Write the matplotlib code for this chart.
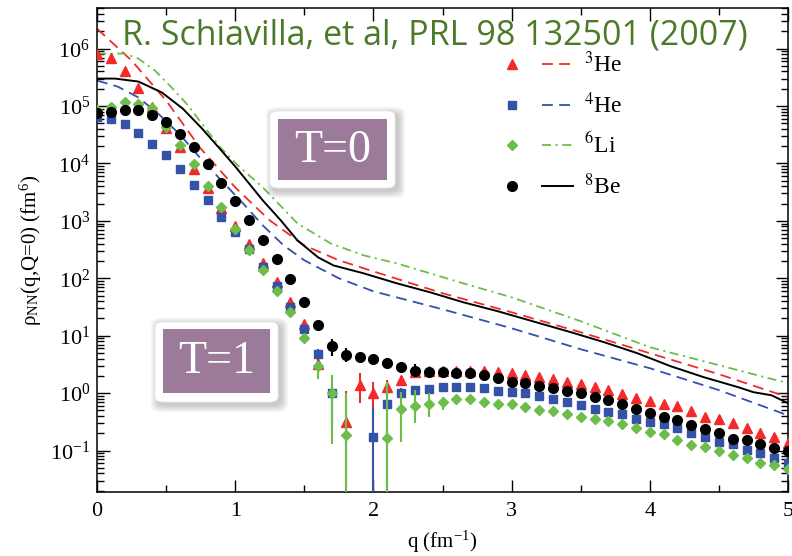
import numpy as np
import matplotlib
matplotlib.use('Agg')
import matplotlib.pyplot as plt
from matplotlib.patches import FancyBboxPatch, Rectangle
from matplotlib.legend_handler import HandlerTuple
from matplotlib.ticker import LogLocator, MultipleLocator, NullFormatter

plt.rcParams['font.family'] = ['Liberation Serif', 'DejaVu Serif']
plt.rcParams['mathtext.fontset'] = 'stix'

nan = np.nan
# ---------------- data ----------------
q_pts = np.round(np.arange(51) * 0.1, 1)

he3_pts = [8.2e5, 6.9e5, 4.1e5, 2.1e5, 9.5e4, 4.1e4, 1.92e4, 8.1e3, 3.8e3, 1.65e3,
           800, 390, 186, 88, 38.7, 16.0, 3.2, nan, 0.32, 1.38,
           0.99, 1.27, 1.68, 2.3, 2.4, 2.4, 2.4, 2.46, 2.44, 2.38,
           2.23, 2.06, 1.92, 1.73, 1.58, 1.43, 1.30, 1.12, 0.97, 0.84,
           0.74, 0.66, 0.59, 0.49, 0.39, 0.35, 0.30, 0.245, 0.205, 0.175, 0.135]
he4_pts = [6.4e4, 6.0e4, 4.9e4, 3.4e4, 2.2e4, 1.38e4, 7.9e3, 4.3e3, 2.27e3, 1.16e3,
           630, 329, 157, 72.6, 31.3, 13.0, 4.77, 0.99, nan, nan,
           0.174, 0.66, 1.01, 1.13, 1.19, 1.26, 1.29, 1.29, 1.21, 1.10,
           1.05, 0.99, 0.89, 0.78, 0.71, 0.62, 0.54, 0.47, 0.43, 0.36,
           0.32, 0.29, 0.243, 0.204, 0.170, 0.142, 0.128, 0.102, 0.089, 0.073, 0.060]
li6_pts = [8.5e4, 9.8e4, 1.2e5, 1.09e5, 9.1e4, 4.3e4, 2.14e4, 9.6e3, 4.1e3, 1.74e3,
           711, 307, 138, 60, 26, 9.3, 2.99, 1.01, 0.19, nan,
           nan, 0.163, 0.52, 0.59, 0.66, 0.71, 0.78, 0.79, 0.71, 0.66,
           0.64, 0.58, 0.51, 0.49, 0.43, 0.39, 0.36, 0.33, 0.29, 0.243,
           0.212, 0.191, 0.152, 0.125, 0.116, 0.099, 0.084, 0.073, 0.060, 0.056, 0.047]
be8_pts = [7.7e4, 8.0e4, 8.7e4, 8.7e4, 7.1e4, 5.2e4, 3.3e4, 1.92e4, 9.9e3, 4.6e3,
           2.18e3, 1.02e3, 471, 214, 96, 38.7, 15.2, 6.65, 4.58, 4.28,
           3.90, 3.37, 2.83, 2.44, 2.35, 2.29, 2.25, 2.20, 2.06, 1.87,
           1.57, 1.48, 1.34, 1.21, 1.10, 0.99, 0.86, 0.76, 0.64, 0.54,
           0.46, 0.39, 0.34, 0.28, 0.234, 0.204, 0.158, 0.152, 0.128, 0.112, 0.099]

# error bars (only where visible)
he3_err_q = [1.6, 1.8, 1.9, 2.0, 2.1, 2.2, 2.3]
he3_err_lo = [0.8, 0.32, 0.71, 0.41, 0.45, 0.3, 0.2]
he3_err_hi = [0.8, 0.78, 0.85, 0.58, 0.45, 0.3, 0.2]
he4_err_q = [1.6, 1.7, 2.0, 2.1, 2.2, 2.3]
he4_err_lo = [1.0, 0.7, 0.174, 0.66, 0.2, 0.15]
he4_err_hi = [1.0, 0.7, 0.4, 0.4, 0.2, 0.15]
li6_err_q = [1.5, 1.6, 1.7, 1.8, 2.1, 2.2, 2.3, 2.4, 2.5]
li6_err_lo = [1.5, 1.2, 0.88, 0.19, 0.163, 0.38, 0.29, 0.27, 0.21]
li6_err_hi = [1.5, 0.5, 1.05, 0.81, 1.4, 0.53, 0.54, 0.33, 0.15]
be8_err_q = [1.6, 1.7, 1.8, 1.9, 2.0, 2.1, 2.2, 2.3, 2.4, 2.5, 2.6, 2.7]
be8_err_lo = [1.0, 2.3, 1.1, 0.8, 0.7, 0.7, 0.55, 0.55, 0.3, 0.25, 0.2, 0.15]
be8_err_hi = [1.0, 2.3, 1.6, 0.8, 0.7, 0.8, 0.45, 0.75, 0.3, 0.25, 0.2, 0.15]

# T=0 curves
he3_line_q = [0, 0.25, 0.5, 0.75, 1.0, 1.25, 1.5, 1.75, 2.0, 2.5, 3.0, 3.5, 4.0, 4.5, 5.0]
he3_line = [2.23e6, 6.2e5, 1.25e5, 1.82e4, 3.83e3, 1.02e3, 375, 206, 132, 55, 25.6, 11.5, 4.96, 2.14, 0.85]
he4_line_q = [0, 0.15, 0.3, 0.45, 0.6, 0.75, 0.9, 1.05, 1.2, 1.35, 1.5, 1.75, 2.0, 2.5, 3.0, 3.5, 4.0, 4.5, 5.0]
he4_line = [2.78e5, 2.18e5, 1.41e5, 7.1e4, 3.19e4, 1.22e4, 5.06e3, 2.10e3, 835, 375, 206, 100, 59.4, 28.9, 13.5, 5.82, 2.72, 1.13, 0.41]
li6_line_q = [0, 0.2, 0.3, 0.42, 0.54, 0.66, 0.78, 0.9, 1.02, 1.2, 1.45, 1.69, 1.93, 2.17, 2.41, 2.65, 3.0, 3.5, 4.0, 4.5, 5.0]
li6_line = [8.2e5, 8.2e5, 6.7e5, 4.14e5, 2.1e5, 1.02e5, 4.23e4, 1.82e4, 9.2e3, 3.83e3, 905, 406, 251, 182, 122, 81.8, 46.7, 17.9, 6.31, 3.07, 1.49]
be8_line_q = [0, 0.13, 0.3, 0.47, 0.62, 0.76, 0.9, 1.0, 1.1, 1.2, 1.33, 1.45, 1.6, 1.71, 1.93, 2.17, 2.41, 2.65, 2.9,
              3.43, 3.67, 3.91, 4.15, 4.39, 4.64, 4.75, 4.88, 5.0]
be8_line = [3.01e5, 3.01e5, 2.67e5, 1.72e5, 9.05e4, 4.06e4, 1.68e4, 8.87e3, 4.49e3, 2.27e3, 1.02e3, 458, 232, 168, 122,
            81.8, 57.1, 38.3, 26.7, 11.5, 7.71, 4.96, 2.95, 1.90, 1.27, 1.04, 0.92, 0.67]

labels = [r'$^{3}$He', r'$^{4}$He', r'$^{6}$Li', r'$^{8}$Be']
RED, BLUE, GREEN, BLACK = '#f42a2a', '#3352a8', '#6cbd4a', '#000000'

# ---------------- figure ----------------
W, H = 792, 556
fig = plt.figure(figsize=(W / 100, H / 100), dpi=100)
ax = fig.add_axes([97 / W, 64 / H, 691 / W, 484 / H])
ax.set_yscale('log')
ax.set_xlim(0, 5)
ax.set_ylim(0.019, 5.1e6)

lw = 1.3
l_he3, = ax.plot(he3_line_q, he3_line, color=RED, lw=lw, dashes=(6, 3.5), zorder=2)
l_he4, = ax.plot(he4_line_q, he4_line, color=BLUE, lw=lw, dashes=(6, 3.5), zorder=2)
l_li6, = ax.plot(li6_line_q, li6_line, color=GREEN, lw=lw, dashes=(5, 2.5, 1.2, 2.5), zorder=2)
l_be8, = ax.plot(be8_line_q, be8_line, color=BLACK, lw=1.4, zorder=2)


def errs(qs, lo, hi, pts):
    vals = [pts[int(round(v * 10))] for v in qs]
    lower = [min(a, 0.9999 * v) for a, v in zip(lo, vals)]
    return vals, [lower, hi]


series = [(he3_pts, he3_err_q, he3_err_lo, he3_err_hi, RED, '^', 7),
          (he4_pts, he4_err_q, he4_err_lo, he4_err_hi, BLUE, 's', 6),
          (li6_pts, li6_err_q, li6_err_lo, li6_err_hi, GREEN, 'D', 5),
          (be8_pts, be8_err_q, be8_err_lo, be8_err_hi, BLACK, 'o', 7)]
mhandles = []
for i, (pts, eq, elo, ehi, c, m, ms) in enumerate(series):
    vals, yerr = errs(eq, elo, ehi, pts)
    ax.errorbar(eq, vals, yerr=yerr, fmt='none', ecolor=c, elinewidth=1.5, capsize=0, zorder=3 + i)
    h, = ax.plot(q_pts, pts, ls='none', marker=m, ms=ms, color=c, mec=c, zorder=3 + i)
    mhandles.append(h)

# ticks
ax.xaxis.set_major_locator(MultipleLocator(1))
ax.xaxis.set_minor_locator(MultipleLocator(0.5))
ax.yaxis.set_major_locator(LogLocator(base=10, numticks=20))
ax.yaxis.set_minor_locator(LogLocator(base=10, subs=np.arange(2, 10), numticks=20))
ax.yaxis.set_minor_formatter(NullFormatter())
ax.tick_params(which='both', direction='in', top=True, right=True, labelsize=16, width=1.0)
ax.tick_params(which='major', length=9)
ax.tick_params(which='minor', length=5)
ax.tick_params(axis='x', pad=7)
ax.tick_params(axis='y', pad=5)
for s in ax.spines.values():
    s.set_linewidth(1.1)

ax.set_xlabel(r'q (fm$^{\mathregular{-1}}$)', fontsize=15, labelpad=6)
ax.set_ylabel(r'ρ$_{\mathregular{NN}}$(q,Q=0) (fm$^{\mathregular{6}}$)', fontsize=15, labelpad=4)

# legend
handles = [(mh, lh) for mh, lh in zip(mhandles, [l_he3, l_he4, l_li6, l_be8])]
leg = ax.legend(handles, labels, handler_map={tuple: HandlerTuple(ndivide=None, pad=0.6)},
                loc='upper left', bbox_to_anchor=((497 - 97) / 691, (492 - 52) / 484),
                frameon=False, fontsize=17, handlelength=3.2, handletextpad=0.5,
                labelspacing=0.63, borderaxespad=0, borderpad=0)

# citation text
fig.text(122 / W, 1 - 45 / H, 'R. Schiavilla, et al, PRL 98 132501 (2007)', fontfamily='Open Sans',
         fontsize=24.5, color='#4d7a2a', ha='left', va='baseline')


# T boxes
def px(x, y):
    return x / W, 1 - y / H


def tbox(ox0, oy0, ox1, oy1, ix0, iy0, ix1, iy1, text):
    for k in range(6):
        e = 1 + k * 1.2
        x0, y0 = px(ox0 - e + 3, oy1 + e + 3)
        x1, y1 = px(ox1 + e + 3, oy0 - e + 3)
        fig.patches.append(FancyBboxPatch((x0, y0), x1 - x0, y1 - y0, boxstyle='round,pad=0,rounding_size=0.012',
                                          transform=fig.transFigure, fc='#000000', ec='none', alpha=0.035, zorder=20))
    x0, y0 = px(ox0, oy1)
    x1, y1 = px(ox1, oy0)
    fig.patches.append(FancyBboxPatch((x0, y0), x1 - x0, y1 - y0, boxstyle='round,pad=0,rounding_size=0.01',
                                      transform=fig.transFigure, fc='white', ec='#e8e8e8', lw=0.6, zorder=21))
    x0, y0 = px(ix0, iy1)
    x1, y1 = px(ix1, iy0)
    fig.patches.append(Rectangle((x0, y0), x1 - x0, y1 - y0, transform=fig.transFigure,
                                 fc='#9c7b9a', ec='none', zorder=22))
    cx, cy = px((ix0 + ix1) / 2, (iy0 + iy1) / 2 + 1)
    fig.text(cx, cy, text, color='white', fontsize=33, ha='center', va='center',
             fontfamily='Liberation Serif', zorder=23)


tbox(270, 111, 395, 188, 278, 119, 387, 180, 'T=0')
tbox(155, 322, 278, 402, 163, 329, 270, 393, 'T=1')

fig.savefig('out.png', dpi=100)
